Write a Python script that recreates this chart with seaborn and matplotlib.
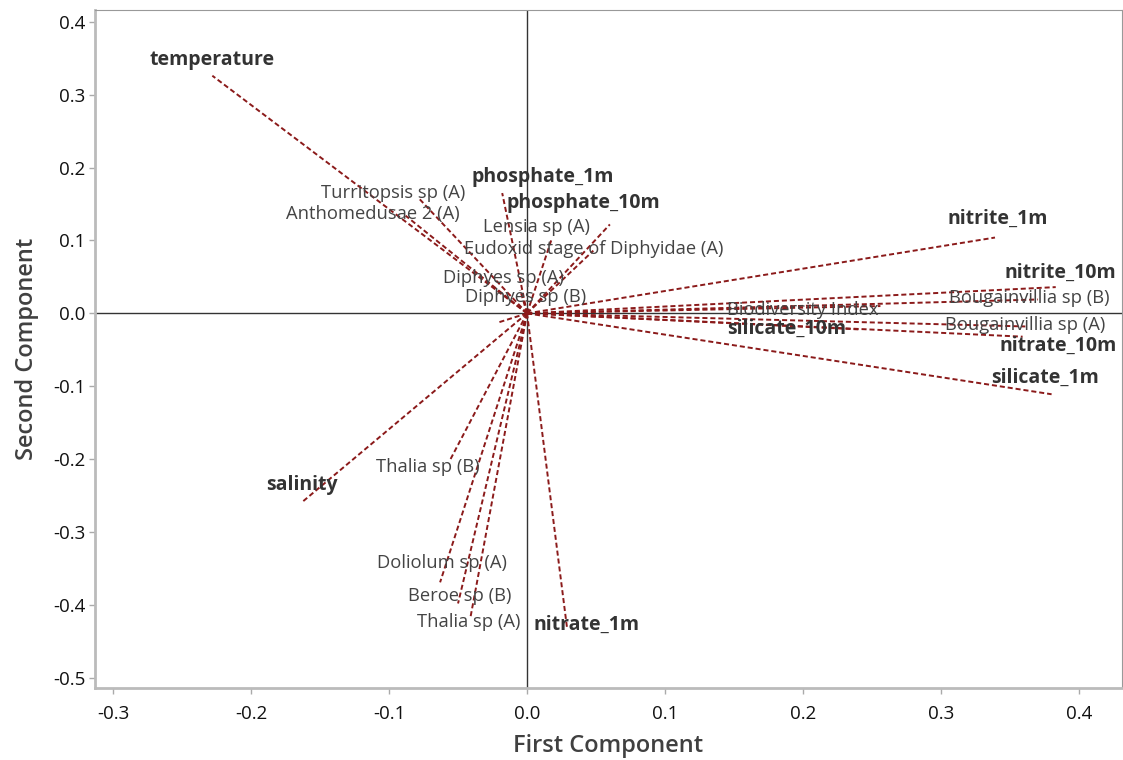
import matplotlib
matplotlib.use("Agg")
import matplotlib.pyplot as plt
import seaborn as sns
import pandas as pd

# ---- data ----
env_names = ["temperature", "salinity", "phosphate_1m", "phosphate_10m", "nitrite_1m",
             "nitrite_10m", "nitrate_1m", "nitrate_10m", "silicate_1m", "silicate_10m"]
env_pc1 = [-0.228, -0.163, -0.018, 0.060, 0.339, 0.383, 0.029, 0.359, 0.380, 0.240]
env_pc2 = [0.326, -0.259, 0.165, 0.122, 0.104, 0.036, -0.432, -0.032, -0.111, -0.022]
env_label_x = [-0.228, -0.163, 0.011, 0.041, 0.341, 0.386, 0.043, 0.385, 0.375, 0.188]
env_label_y = [0.348, -0.236, 0.187, 0.151, 0.129, 0.056, -0.427, -0.045, -0.089, -0.021]

sp_names = ["Turritopsis sp (A)", "Anthomedusae 2 (A)", "Lensia sp (A)",
            "Eudoxid stage of Diphyidae (A)", "Diphyes sp (A)", "Diphyes sp (B)",
            "Biodiversity Index", "Bougainvillia sp (B)", "Bougainvillia sp (A)",
            "Thalia sp (B)", "Doliolum sp (A)", "Beroe sp (B)", "Thalia sp (A)"]
sp_pc1 = [-0.079, -0.088, 0.018, 0.048, -0.005, -0.020, 0.256, 0.370, 0.361,
          -0.056, -0.063, -0.050, -0.041]
sp_pc2 = [0.159, 0.134, 0.103, 0.086, 0.032, -0.012, 0.010, 0.019, -0.018,
          -0.202, -0.369, -0.398, -0.417]
sp_label_x = [-0.097, -0.112, 0.007, 0.048, -0.017, -0.001, 0.200, 0.364, 0.361,
              -0.072, -0.062, -0.049, -0.042]
sp_label_y = [0.165, 0.136, 0.118, 0.088, 0.048, 0.022, 0.005, 0.021, -0.016,
              -0.211, -0.343, -0.388, -0.424]

x_ticks = [-0.3, -0.2, -0.1, 0.0, 0.1, 0.2, 0.3, 0.4]
y_ticks = [0.4, 0.3, 0.2, 0.1, 0.0, -0.1, -0.2, -0.3, -0.4, -0.5]

# ---- long-form table: each vector = origin + endpoint ----
rows = []
for n, x, y in zip(env_names + sp_names, env_pc1 + sp_pc1, env_pc2 + sp_pc2):
    rows.append({"name": n, "x": 0.0, "y": 0.0, "order": 0})
    rows.append({"name": n, "x": x, "y": y, "order": 1})
df = pd.DataFrame(rows)

sns.set_theme(style="white")
plt.rcParams["font.family"] = ["Open Sans", "DejaVu Sans"]
plt.rcParams["axes.unicode_minus"] = False

fig = plt.figure(figsize=(11.23, 7.6), dpi=100)
ax = fig.add_axes([0.0846, 0.0947, 0.9145, 0.892])

ax.axhline(0, color="#333333", lw=1.0, zorder=1)
ax.axvline(0, color="#333333", lw=1.0, zorder=1)

sns.lineplot(data=df, x="x", y="y", units="name", estimator=None, sort=False,
             color="#8b1a1a", linestyle=(0, (2.6, 1.5)), linewidth=1.4, ax=ax, zorder=2)

text_color = "#444444"
for n, lx, ly in zip(sp_names, sp_label_x, sp_label_y):
    ax.text(lx, ly, n, ha="center", va="center", fontsize=13.2, color=text_color, zorder=3)
for n, lx, ly in zip(env_names, env_label_x, env_label_y):
    ax.text(lx, ly, n, ha="center", va="center", fontsize=14, fontweight="bold",
            color="#333333", zorder=3)

ax.set_xlim(-0.313, 0.431)
ax.set_ylim(-0.514, 0.416)
ax.set_xticks(x_ticks)
ax.set_yticks(y_ticks)
ax.set_xticklabels([f"{t:.1f}" for t in x_ticks])
ax.set_yticklabels([f"{t:.1f}" for t in y_ticks])
ax.tick_params(axis="both", which="major", length=4, width=1, color="#aaaaaa",
               labelsize=13.5, labelcolor="#111111", direction="out")
ax.tick_params(axis="x", bottom=True, pad=8)
ax.tick_params(axis="y", left=True, pad=3)

for side in ["left", "bottom"]:
    ax.spines[side].set_color("#bbbbbb")
    ax.spines[side].set_linewidth(2.0)
for side in ["top", "right"]:
    ax.spines[side].set_color("#999999")
    ax.spines[side].set_linewidth(0.8)

ax.set_xlabel("First Component", fontsize=17, color="#404040", fontweight="semibold", labelpad=8)
ax.set_ylabel("Second Component", fontsize=17, color="#404040", fontweight="semibold", labelpad=10)

fig.savefig("out.png", dpi=100)
